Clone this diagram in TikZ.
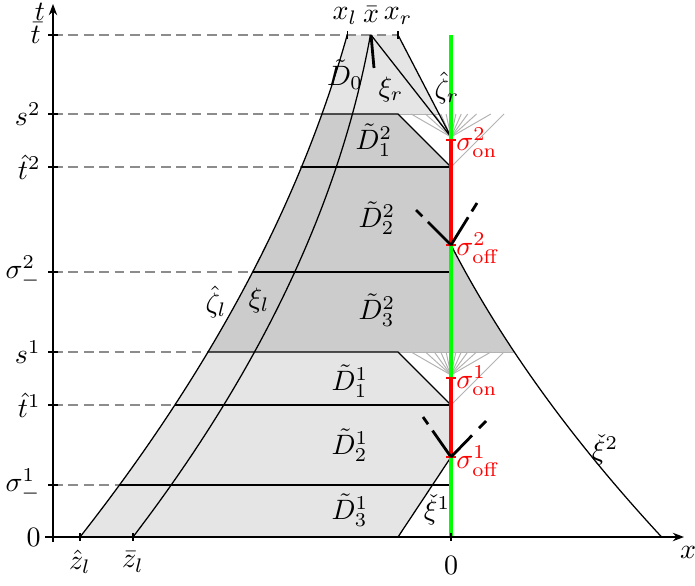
\documentclass[tikz,border=0pt]{standalone}
\usetikzlibrary{arrows.meta,calc}
\begin{document}
\begin{tikzpicture}[x=0.357pt,y=-0.357pt,
 declare function={zl(\u)=80+0.785*\u-0.000511*\u*\u; xil(\u)=133+0.764*\u-0.000579*\u*\u; xc(\v)=451+0.5163*\v+0.000707*\v*\v;},
 lightfill/.style={fill=black!10},
 darkfill/.style={fill=black!20},
 guide/.style={black!45, dash pattern=on 3.5pt off 2pt, line width=0.4pt},
 fanline/.style={black!30, line width=0.35pt},
 bnd/.style={black, line width=0.45pt},
 shockmark/.style={black, line width=1pt},
 lbl/.style={inner sep=1pt},
 leftlbl/.style={anchor=east, inner sep=1pt},
 redlbl/.style={red, anchor=west, inner sep=1pt},
 axisline/.style={line width=0.45pt, -{Stealth[length=4pt,width=3pt]}}]
\useasboundingbox (0,0) rectangle (695,585);
% key points
\coordinate (xl) at ({zl(502)},35);
\coordinate (xb) at (371,35);
\coordinate (xr) at (398,35);
\coordinate (on2) at (451,137);
\coordinate (off2) at (451,245);
\coordinate (on1) at (451,375);
\coordinate (off1) at (451,457);
\coordinate (c2) at (451,167);
\coordinate (c1) at (451,405);
\coordinate (d2) at (398,114);
\coordinate (d1) at (398,352);
\coordinate (r0) at (439,114);
\coordinate (k2) at ({xc(107)},352);
\coordinate (k1) at (398,537);
\coordinate (gtop) at (451,35);
\coordinate (gbot) at (451,537);
% fills
\fill[lightfill] plot[domain=423:502, variable=\u, samples=30] ({zl(\u)},{537-\u}) -- (xr) -- (r0) -- cycle;
\fill[darkfill] plot[domain=423:185, variable=\u, samples=40] ({zl(\u)},{537-\u}) -- (k2) -- plot[domain=107:0, variable=\v, samples=30] ({xc(\v)},{245+\v}) -- (c2) -- (d2) -- cycle;
\fill[lightfill] plot[domain=185:0, variable=\u, samples=40] ({zl(\u)},{537-\u}) -- (k1) -- (off1) -- (c1) -- (d1) -- cycle;
% dashed guides
\draw[guide] (53,35) -- (xr);
\draw[guide] (53,114) -- ({zl(423)},114);
\draw[guide] (53,167) -- ({zl(370)},167);
\draw[guide] (53,272) -- ({zl(265)},272);
\draw[guide] (53,352) -- ({zl(185)},352);
\draw[guide] (53,405) -- ({zl(132)},405);
\draw[guide] (53,485) -- ({zl(52)},485);
% fans
\foreach \a in {-60,-48,...,60} {
  \draw[fanline] (on2) -- ++({23*tan(\a)},-23);
  \draw[fanline] (on1) -- ++({23*tan(\a)},-23);
}
\draw[fanline] (c2) -- (504,114);
\draw[fanline] (c1) -- (504,352);
\draw[fanline] (d2) -- (r0);
\draw[fanline] (d1) -- (k2);
% horizontal boundaries
\draw[bnd] ({zl(423)},114) -- (d2) -- (c2);
\draw[bnd] ({zl(370)},167) -- (c2);
\draw[bnd] ({zl(265)},272) -- (451,272);
\draw[bnd] ({zl(185)},352) -- (d1) -- (c1);
\draw[bnd] ({zl(132)},405) -- (c1);
\draw[bnd] ({zl(52)},485) -- (451,485);
% curves
\draw[bnd] plot[domain=0:502, variable=\u, samples=60] ({zl(\u)},{537-\u});
\draw[bnd] plot[domain=0:502, variable=\u, samples=60] ({xil(\u)},{537-\u});
\draw[bnd] plot[domain=0:292, variable=\v, samples=50] ({xc(\v)},{245+\v});
\draw[bnd] (off1) -- (k1);
\draw[bnd] (xb) -- (on2);
\draw[bnd] (xr) -- (on2);
\draw[shockmark] (xb) -- (374,68);
% green and red
\draw[green, line width=1.2pt] (gtop) -- (gbot);
\draw[red, line width=1.3pt] (451,140) -- (off2);
\draw[red, line width=1.3pt] (451,378) -- (off1);
\draw[red, line width=0.6pt] (446,140) -- (456,140) (446,245) -- (456,245);
\draw[red, line width=0.6pt] (446,378) -- (456,378) (446,457) -- (456,457);
% shock marks
\coordinate (L2) at (416,210);
\coordinate (R2) at (477,203);
\coordinate (L1) at (423,417);
\coordinate (R1) at (486,421);
\draw[shockmark] (off2) -- ($(off2)!0.66!(L2)$) ($(off2)!0.82!(L2)$) -- (L2);
\draw[shockmark] (off2) -- ($(off2)!0.66!(R2)$) ($(off2)!0.80!(R2)$) -- (R2);
\draw[shockmark] (off1) -- ($(off1)!0.66!(L1)$) ($(off1)!0.82!(L1)$) -- (L1);
\draw[shockmark] (off1) -- ($(off1)!0.60!(R1)$) ($(off1)!0.80!(R1)$) -- (R1);
% axes
\draw[axisline] (45,537) -- (684,537);
\draw[axisline] (53,542) -- (53,4);
\foreach \y in {35,114,167,272,352,405,485,537} \draw[bnd] (48,\y) -- (58,\y);
\foreach \x in {80,133,451} \draw[bnd] (\x,533) -- (\x,541);
\draw[bnd] (xl) ++(0,-4) -- ++(0,8);
\draw[bnd] (xr) ++(0,-4) -- ++(0,8);
% axis labels
\node[lbl] (tlab) at (40,12) {$t$};
\node[leftlbl] (ttop) at (44,33) {$\bar t$};
\node[leftlbl] (s2) at (44,114) {$s^2$};
\node[leftlbl] (th2) at (44,167) {$\hat t^2$};
\node[leftlbl] (sm2) at (44,272) {$\sigma^2_-$};
\node[leftlbl] (s1) at (44,352) {$s^1$};
\node[leftlbl] (th1) at (44,405) {$\hat t^1$};
\node[leftlbl] (sm1) at (44,485) {$\sigma^1_-$};
\node[leftlbl] (zero) at (44,537) {$0$};
\node[lbl] (zhl) at (80,562) {$\hat z_l$};
\node[lbl] (zbl) at (133,562) {$\bar z_l$};
\node[lbl] (xzero) at (451,565) {$0$};
\node[lbl] (xlab) at (688,552) {$x$};
\node[lbl] (xllab) at (345,16) {$x_l$};
\node[lbl] (xblab) at (371,15) {$\bar x$};
\node[lbl] (xrlab) at (398,16) {$x_r$};
% region and curve labels
\node[lbl] (D0) at (345,75) {$\tilde D_0$};
\node[lbl] (xir) at (391,89) {$\xi_r$};
\node[lbl] (zetar) at (447,88) {$\hat\zeta_r$};
\node[lbl] (D21) at (374,140) {$\tilde D^2_1$};
\node[lbl] (D22) at (377,218) {$\tilde D^2_2$};
\node[lbl] (D23) at (377,310) {$\tilde D^2_3$};
\node[lbl] (zetal) at (216,302) {$\hat\zeta_l$};
\node[lbl] (xil) at (259,300) {$\xi_l$};
\node[lbl] (D11) at (350,381) {$\tilde D^1_1$};
\node[lbl] (D12) at (350,445) {$\tilde D^1_2$};
\node[lbl] (D13) at (350,510) {$\tilde D^1_3$};
\node[lbl] (xic1) at (437,510) {$\check\xi^1$};
\node[lbl] (xic2) at (605,450) {$\check\xi^2$};
\node[redlbl] (son2) at (453,143) {$\sigma^2_{\mathrm{on}}$};
\node[redlbl] (soff2) at (453,248) {$\sigma^2_{\mathrm{off}}$};
\node[redlbl] (son1) at (453,381) {$\sigma^1_{\mathrm{on}}$};
\node[redlbl] (soff1) at (453,461) {$\sigma^1_{\mathrm{off}}$};
\end{tikzpicture}
\end{document}
